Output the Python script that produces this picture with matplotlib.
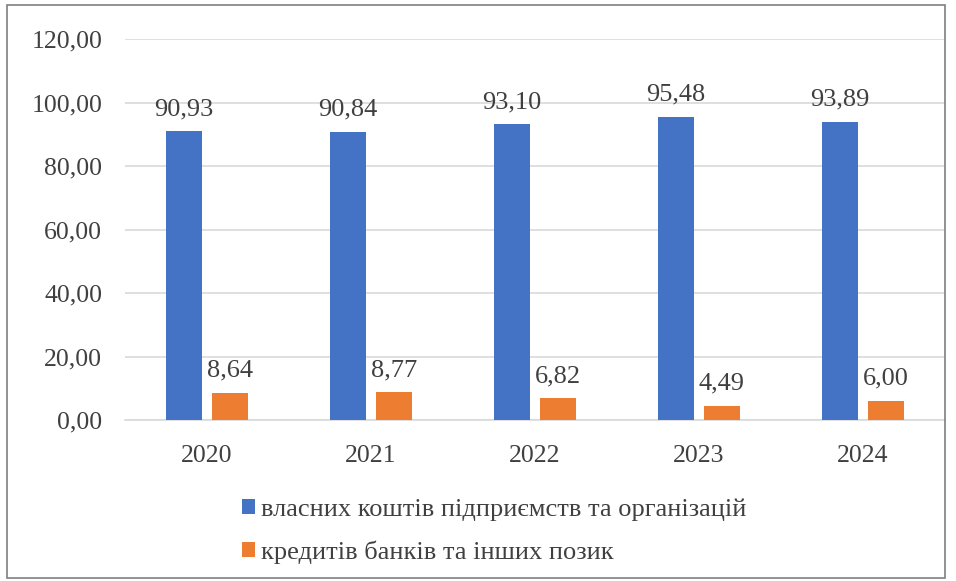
import matplotlib
matplotlib.use("Agg")
import matplotlib.pyplot as plt
import numpy as np
from matplotlib.patches import Rectangle
from matplotlib.font_manager import FontProperties

years = ["2020", "2021", "2022", "2023", "2024"]
own_funds = [90.93, 90.84, 93.10, 95.48, 93.89]
bank_loans = [8.64, 8.77, 6.82, 4.49, 6.00]
yticks = [0, 20, 40, 60, 80, 100, 120]
series_names = ["власних коштів підприємств та організацій",
                "кредитів банків та інших позик"]

FAM = 'Liberation Serif'
plt.rcParams['font.family'] = 'serif'
plt.rcParams['font.serif'] = [FAM, 'DejaVu Serif']
txt = '#404040'
blue = '#4472C4'
orange = '#ED7D31'

fig = plt.figure(figsize=(9.56, 5.81), dpi=100)
W, H = 956, 581
ax = fig.add_axes([125 / W, 1 - 420 / H, 820 / W, (420 - 39) / H])

x = np.arange(len(years))
bw = 0.225
off = 0.14
b1 = ax.bar(x - off, own_funds, bw, color=blue, label=series_names[0], zorder=3)
b2 = ax.bar(x + off, bank_loans, bw, color=orange, label=series_names[1], zorder=3)

fmt = lambda v: f"{v:.2f}".replace('.', ',')
for rects, vals in ((b1, own_funds), (b2, bank_loans)):
    for r, v in zip(rects, vals):
        ax.annotate(fmt(v), (r.get_x() + r.get_width() / 2, v),
                    xytext=(0, 8), textcoords='offset points',
                    ha='center', va='bottom', fontsize=19, color=txt,
                    family=FAM)

ax.set_xlim(-0.5, len(years) - 0.5)
ax.set_ylim(0, 120)
ax.set_yticks(yticks)
ax.set_yticklabels([fmt(v) for v in yticks], fontsize=18.5, color=txt, family=FAM)
ax.set_xticks(x)
ax.set_xticklabels(years, fontsize=18.5, color=txt, family=FAM)
ax.tick_params(axis='both', length=0)
ax.tick_params(axis='y', pad=16.5)
ax.tick_params(axis='x', pad=18)
ax.grid(axis='y', color='#D9D9D9', linewidth=1.2, zorder=0)
for s in ('top', 'right', 'left'):
    ax.spines[s].set_visible(False)
ax.spines['bottom'].set_color('#D9D9D9')
ax.spines['bottom'].set_linewidth(1.2)

leg = fig.legend(handles=[b1, b2], labels=series_names, loc='upper left',
                 bbox_to_anchor=(218 / W, 1 - 475 / H), frameon=False,
                 prop=FontProperties(family=FAM, size=19),
                 handlelength=0.5, handleheight=0.5,
                 handletextpad=0.23, labelspacing=0.73, labelcolor=txt)

fig.patches.append(Rectangle((7 / W, 3 / H), (945 - 7) / W, (576 - 3) / H,
                             transform=fig.transFigure, fill=False,
                             edgecolor='#7F7F7F', linewidth=1.2))

fig.savefig("out.png", dpi=100)
